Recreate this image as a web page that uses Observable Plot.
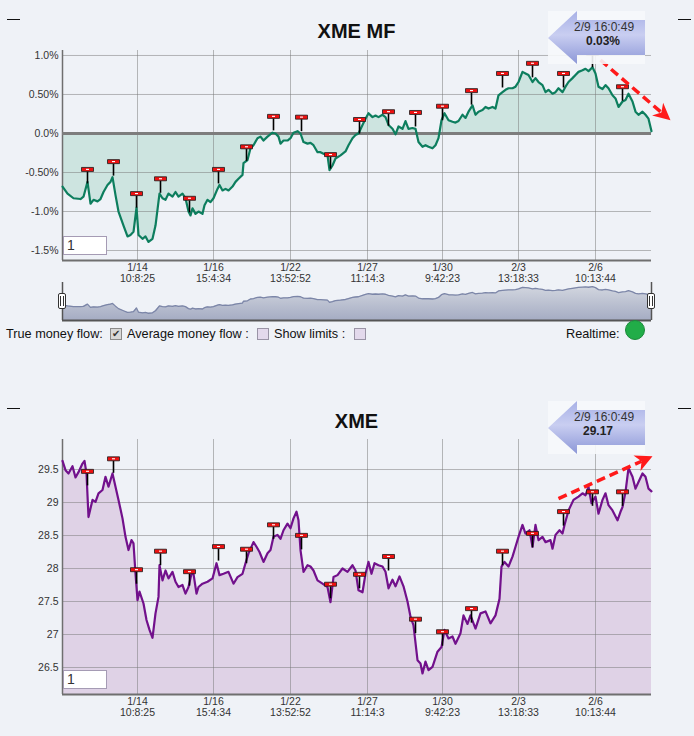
<!DOCTYPE html>
<html><head><meta charset="utf-8">
<script src="https://cdn.jsdelivr.net/npm/d3@7"></script>
<script src="https://cdn.jsdelivr.net/npm/@observablehq/plot@0.6"></script>
<style>
html,body{margin:0;padding:0;background:#eff2f7;}
#root{position:relative;width:694px;height:736px;overflow:hidden;background:#eff2f7;font-family:"Liberation Sans",Arial,sans-serif;color:#111;}
#root svg.plotsvg{position:absolute;left:0;}
.abs{position:absolute;}
.title{position:absolute;left:0;width:714px;text-align:center;font-weight:bold;font-size:20px;color:#111;}
.dash{position:absolute;width:13px;height:1px;background:#111;}
.inbox{position:absolute;left:63px;width:39px;height:17px;background:#fff;border:1px solid #a59bb4;font-size:14px;line-height:17px;color:#333;padding-left:3px;box-sizing:content-box;}
.ctl{position:absolute;top:327px;font-size:12.7px;line-height:14px;color:#111;white-space:nowrap;}
.cb{position:absolute;top:328px;width:10px;height:10px;border:1px solid #8a8a8a;}
.handle{position:absolute;top:293px;width:6px;height:14px;background:#fff;border:1.5px solid #333;border-radius:2px;}
.handle:before{content:"";position:absolute;left:1px;top:2px;width:1px;height:10px;background:#333;}
.handle:after{content:"";position:absolute;left:4px;top:2px;width:1px;height:10px;background:#333;}
</style></head>
<body>
<svg width="0" height="0" style="position:absolute">
  <defs>
    <linearGradient id="navGrad" x1="0" y1="0" x2="0" y2="1">
      <stop offset="0" stop-color="#d2d6df"/>
      <stop offset="1" stop-color="#a5acc3"/>
    </linearGradient>
    <linearGradient id="callGrad" x1="0" y1="0" x2="0" y2="1">
      <stop offset="0" stop-color="#a7b0e6"/>
      <stop offset="0.45" stop-color="#c9cef1"/>
      <stop offset="1" stop-color="#8c97d7"/>
    </linearGradient>
  </defs>
</svg>
<div id="root"></div>
<script>
// ---------------- data ----------------
const xDomain = [0, 589];
const xTickBars = [75, 151, 228, 305, 380, 456, 533];
const xTickDates = ["1/14", "1/16", "1/22", "1/27", "1/30", "2/3", "2/6"];
const xTickTimes = ["10:8:25", "15:4:34", "13:52:52", "11:14:3", "9:42:23", "13:18:33", "10:13:44"];

const mfTicks = [1, 0.5, 0, -0.5, -1, -1.5];
const mfTickLabels = ["1.0%", "0.50%", "0.0%", "-0.50%", "-1.0%", "-1.5%"];
const priceTicks = [29.5, 29, 28.5, 28, 27.5, 27, 26.5];
const priceTickLabels = ["29.5", "29", "28.5", "28", "27.5", "27", "26.5"];

const mfBars = [0,5,11,18,21,25,28,31,35,38,41,45,48,50,53,56,61,65,68,71,74,76,80,83,86,90,93,97,100,103,106,110,113,116,120,123,126,128,130,133,136,140,142,145,148,151,155,157,160,163,166,170,173,176,180,181,185,188,191,195,198,201,205,210,213,216,218,221,225,228,231,235,238,241,245,248,251,255,258,261,265,267,270,273,278,283,286,290,293,296,300,303,306,310,313,316,320,323,326,330,333,336,340,343,346,350,353,356,360,363,366,370,373,376,379,382,386,390,393,396,400,403,406,410,413,416,420,423,426,430,433,436,440,443,446,450,453,456,460,463,466,470,473,476,480,483,486,490,493,496,500,503,506,510,513,516,520,523,526,530,533,536,540,543,546,550,553,556,560,563,566,570,573,576,580,583,586,589];
const mfValues = [-0.68,-0.77,-0.83,-0.84,-0.81,-0.62,-0.90,-0.85,-0.87,-0.84,-0.75,-0.66,-0.62,-0.56,-0.79,-1.00,-1.18,-1.32,-1.30,-1.26,-0.95,-1.30,-1.35,-1.32,-1.39,-1.35,-1.18,-0.77,-0.83,-0.85,-0.77,-0.81,-0.75,-0.81,-0.77,-0.83,-1.00,-1.05,-0.96,-1.03,-1.00,-1.03,-0.92,-0.85,-0.88,-0.83,-0.71,-0.66,-0.73,-0.71,-0.73,-0.68,-0.62,-0.58,-0.53,-0.38,-0.34,-0.19,-0.15,-0.06,-0.04,-0.09,-0.04,0.01,0.00,-0.04,-0.13,-0.09,-0.09,-0.06,0.01,0.03,0.00,-0.11,-0.13,-0.12,-0.15,-0.24,-0.24,-0.26,-0.28,-0.47,-0.41,-0.32,-0.28,-0.23,-0.15,-0.06,-0.02,0.00,0.11,0.19,0.26,0.21,0.23,0.21,0.24,0.21,0.11,0.06,-0.01,0.09,0.06,0.16,0.06,0.07,0.06,-0.11,-0.17,-0.15,-0.17,-0.19,-0.15,-0.06,0.17,0.26,0.17,0.15,0.14,0.16,0.24,0.20,0.28,0.36,0.24,0.28,0.30,0.34,0.32,0.34,0.32,0.49,0.53,0.56,0.58,0.58,0.60,0.66,0.79,0.77,0.75,0.66,0.71,0.66,0.62,0.53,0.56,0.51,0.53,0.58,0.53,0.60,0.66,0.71,0.75,0.79,0.81,0.83,0.80,0.85,0.77,0.60,0.57,0.62,0.58,0.49,0.45,0.34,0.41,0.43,0.51,0.41,0.28,0.24,0.28,0.24,0.19,0.03];

const priceBars = [0,3,6,10,13,16,20,22,24,26,30,33,36,40,43,46,50,53,56,60,63,66,69,71,73,75,77,81,84,87,90,93,96,97,100,103,106,110,113,116,120,123,126,129,131,134,136,140,145,150,154,157,161,166,171,175,180,183,186,191,194,197,201,205,208,211,215,218,221,225,228,231,234,236,238,241,245,248,251,255,260,265,268,271,275,280,285,290,293,296,300,303,306,309,312,316,320,323,326,330,333,337,341,345,348,351,355,358,360,363,366,370,375,379,382,386,390,393,398,401,405,408,413,418,423,428,433,437,439,442,446,450,453,456,460,463,467,470,473,476,480,483,488,490,493,497,500,502,506,511,516,520,523,526,529,533,536,540,543,546,550,555,558,560,563,566,570,573,576,580,583,586,589];
const priceValues = [29.63,29.49,29.44,29.55,29.38,29.46,29.59,29.63,29.44,28.78,29.04,29.01,29.14,29.19,29.39,29.24,29.44,29.24,29.04,28.76,28.48,28.28,28.43,28.38,27.92,27.52,27.65,27.47,27.22,27.07,26.95,27.32,27.57,28.05,27.82,27.97,27.85,27.95,27.80,27.72,27.75,27.62,27.72,27.92,27.92,27.62,27.72,27.77,27.80,27.85,28.08,27.90,27.92,27.95,27.77,27.87,27.92,28.08,28.23,28.40,28.33,28.25,28.10,28.23,28.28,28.48,28.51,28.45,28.58,28.68,28.61,28.76,28.86,28.73,28.28,27.95,28.05,28.03,27.97,27.82,27.77,27.72,27.49,27.87,27.90,28.00,27.95,28.05,27.97,27.67,27.64,27.92,28.10,27.92,28.08,28.05,28.03,27.95,27.70,27.83,27.73,27.88,27.73,27.50,27.27,27.14,26.61,26.56,26.41,26.59,26.46,26.51,26.74,26.81,27.07,26.94,26.97,26.86,27.02,27.29,27.16,27.29,27.09,27.32,27.35,27.17,27.29,27.54,28.03,28.10,28.03,28.18,28.33,28.48,28.66,28.53,28.58,28.33,28.66,28.43,28.48,28.40,28.43,28.30,28.51,28.58,28.53,28.66,28.88,29.04,29.09,29.14,29.11,29.24,28.99,29.09,28.83,29.04,29.14,28.96,28.88,28.73,28.86,28.93,29.16,29.52,29.39,29.21,29.31,29.44,29.39,29.21,29.17];

const flagBars = [25,51,74,98,127,156,184,211,239,268,297,326,353,380,409,440,470,501,530,560];
const mfFlagValues = [-0.64,-0.54,-0.95,-0.76,-1.01,-0.64,-0.35,0.04,0.03,-0.45,0.00,0.10,0.09,0.17,0.37,0.59,0.72,0.59,0.85,0.42];
const priceFlagValues = [29.26,29.45,27.77,28.05,27.74,28.12,28.08,28.45,28.29,27.55,27.70,27.97,27.02,26.83,27.18,28.05,28.32,28.65,28.95,28.95];

const mfTrend = [{bar: 538, v: 0.94}, {bar: 608, v: 0.17}];
const priceTrend = [{bar: 496, v: 29.06}, {bar: 590, v: 29.70}];

const lastTime = "2/9 16:0:49";
const lastMF = "0.03%";
const lastPrice = "29.17";

// ---------------- drawing ----------------
const W = 694, ML = 62, MR = 43;
const root = document.getElementById("root");

const stemSymbol = {draw(ctx) { ctx.moveTo(0, 0); ctx.lineTo(0, -12); }};
const flagSymbol = {draw(ctx) { ctx.moveTo(-6, -16); ctx.lineTo(6, -16); ctx.lineTo(6, -12); ctx.lineTo(-6, -12); ctx.closePath(); }};
const flagDotSymbol = {draw(ctx) { ctx.moveTo(-1.5, -14.6); ctx.lineTo(1.5, -14.6); ctx.lineTo(1.5, -13.5); ctx.lineTo(-1.5, -13.5); ctx.closePath(); }};
function headSymbol(angle) {
  const c = Math.cos(angle), s = Math.sin(angle);
  const pts = [[0, 0], [-17, -8.5], [-12, 0], [-17, 8.5]];
  return {draw(ctx) {
    pts.forEach(([px, py], i) => { const X = px * c - py * s, Y = px * s + py * c; i ? ctx.lineTo(X, Y) : ctx.moveTo(X, Y); });
    ctx.closePath();
  }};
}

function drawChart(o) {
  const data = o.bars.map((b, i) => ({bar: b, v: o.values[i]}));
  const flags = flagBars.map((b, i) => ({bar: b, v: o.flagValues[i]}));
  const kx = (W - ML - MR) / (xDomain[1] - xDomain[0]);
  const ky = (o.height - o.marginTop - o.marginBottom) / (o.yDomain[1] - o.yDomain[0]);
  const [t0, t1] = o.trend;
  const dxp = (t1.bar - t0.bar) * kx, dyp = -(t1.v - t0.v) * ky;
  const ang = Math.atan2(dyp, dxp);
  const len = Math.hypot(dxp, dyp);
  const f = (len - 12) / len;
  const link = [{x1: t0.bar, y1: t0.v, x2: t0.bar + (t1.bar - t0.bar) * f, y2: t0.v + (t1.v - t0.v) * f}];
  const marks = [
    Plot.areaY(data, {x: "bar", y1: o.areaBase, y2: "v", fill: o.areaColor}),
    Plot.ruleX(xTickBars, {x: d => d, stroke: "#777", strokeOpacity: 0.5}),
    Plot.ruleY(o.yTicks, {y: d => d, stroke: "#777", strokeOpacity: 0.5}),
    Plot.ruleX([xDomain[0]], {x: d => d, stroke: "#6f6f6f", strokeWidth: 1.5}),
    Plot.ruleY([o.yDomain[0]], {y: d => d, stroke: "#6f6f6f", strokeWidth: 2})
  ];
  if (o.zero) marks.push(Plot.ruleY([0], {y: d => d, stroke: "#7d7d7d", strokeWidth: 3}));
  marks.push(
    Plot.line(data, {x: "bar", y: "v", stroke: o.lineColor, strokeWidth: 2.2, strokeLinejoin: "round"}),
    Plot.dot(flags, {x: "bar", y: "v", symbol: stemSymbol, fill: "none", stroke: "#000", strokeWidth: 1.6}),
    Plot.dot(flags, {x: "bar", y: "v", symbol: flagSymbol, fill: "#ee1111", stroke: "#1a1a1a", strokeWidth: 0.8}),
    Plot.dot(flags, {x: "bar", y: "v", symbol: flagDotSymbol, fill: "#ffffff", stroke: "none"}),
    Plot.link(link, {x1: "x1", y1: "y1", x2: "x2", y2: "y2", stroke: "#ff1a1a", strokeWidth: 3.5, strokeDasharray: "9,5"}),
    Plot.dot([t1], {x: "bar", y: "v", symbol: headSymbol(ang), fill: "#ff1a1a", stroke: "none"}),
    Plot.text(o.yTicks, {y: d => d, text: (d, i) => o.yLabels[i], frameAnchor: "left", textAnchor: "end", dx: -4, fill: "#333", fontSize: 10.5}),
    Plot.text(xTickBars, {x: d => d, text: (d, i) => xTickDates[i], frameAnchor: "bottom", dy: 10, fill: "#333", fontSize: 10.5}),
    Plot.text(xTickBars, {x: d => d, text: (d, i) => xTickTimes[i], frameAnchor: "bottom", dy: 21, fill: "#333", fontSize: 10.5})
  );
  const svg = Plot.plot({
    width: W, height: o.height,
    marginLeft: ML, marginRight: MR, marginTop: o.marginTop, marginBottom: o.marginBottom,
    x: {domain: xDomain, axis: null},
    y: {domain: o.yDomain, axis: null},
    style: {background: "transparent", fontFamily: "'Liberation Sans', Arial, sans-serif", overflow: "visible"},
    marks
  });
  svg.classList.add("plotsvg");
  svg.style.top = o.top + "px";
  svg.style.position = "absolute";
  svg.style.maxWidth = "none";
  root.appendChild(svg);
}

drawChart({
  top: 0, height: 290, marginTop: 50, marginBottom: 30,
  bars: mfBars, values: mfValues, flagValues: mfFlagValues,
  yDomain: [-1.628, 1.064], yTicks: mfTicks, yLabels: mfTickLabels,
  lineColor: "#0d7e5e", areaColor: "#cde4e0", areaBase: 0, zero: true, trend: mfTrend
});

drawChart({
  top: 390, height: 330, marginTop: 49, marginBottom: 26,
  bars: priceBars, values: priceValues, flagValues: priceFlagValues,
  yDomain: [26.091, 29.955], yTicks: priceTicks, yLabels: priceTickLabels,
  lineColor: "#72118c", areaColor: "#dfd2e6", areaBase: 26.091, zero: false, trend: priceTrend
});

// navigator
{
  const navData = mfBars.map((b, i) => ({bar: b, v: mfValues[i]}));
  const nav = Plot.plot({
    width: W, height: 39, marginLeft: ML, marginRight: MR, marginTop: 0, marginBottom: 1,
    x: {domain: xDomain, axis: null},
    y: {domain: [-2.0, 1.2], axis: null},
    style: {background: "transparent", overflow: "visible"},
    marks: [
      Plot.areaY(navData, {x: "bar", y1: -2.0, y2: "v", fill: "url(#navGrad)"}),
      Plot.line(navData, {x: "bar", y: "v", stroke: "#7c86a8", strokeWidth: 1.3}),
      Plot.ruleX([xDomain[0], xDomain[1]], {x: d => d, stroke: "#555", strokeWidth: 1.5}),
      Plot.ruleY([-2.0], {y: d => d, stroke: "#555", strokeWidth: 2})
    ]
  });
  nav.classList.add("plotsvg");
  nav.style.position = "absolute";
  nav.style.top = "282px";
  nav.style.maxWidth = "none";
  root.appendChild(nav);
}

// overlay html
function add(html) { root.insertAdjacentHTML("beforeend", html); }
add(`<div class="title" style="top:20px;width:713px">XME MF</div>`);
add(`<div class="title" style="top:410px;width:713px">XME</div>`);
add(`<div class="dash" style="left:7px;top:19px"></div><div class="dash" style="left:678px;top:19px"></div>`);
add(`<div class="dash" style="left:7px;top:408px"></div><div class="dash" style="left:678px;top:408px"></div>`);
add(`<div class="inbox" style="top:236px">1</div><div class="inbox" style="top:670px">1</div>`);
add(`<div class="handle" style="left:58px"></div><div class="handle" style="left:647px"></div>`);
add(`<div class="ctl" style="left:6px">True money flow:</div>`);
add(`<div class="cb" style="left:110px;background:#d8d8d8;font-size:10px;line-height:10px;text-align:center;color:#333">✔</div>`);
add(`<div class="ctl" style="left:127px">Average money flow :</div>`);
add(`<div class="cb" style="left:257px;background:#e3d9ec;border-color:#9a94a6"></div>`);
add(`<div class="ctl" style="left:274px">Show limits :</div>`);
add(`<div class="cb" style="left:354px;background:#e3d9ec;border-color:#9a94a6"></div>`);
add(`<div class="ctl" style="left:566px">Realtime:</div>`);
add(`<div class="abs" style="left:625px;top:320px;width:18px;height:18px;border-radius:50%;background:#21ad48;border:1px solid #1b8a3a"></div>`);

function callout(dy, l1, l2, x2) {
  return `<svg class="abs" style="left:0;top:${dy}px" width="694" height="70">
    <rect x="548" y="11" width="97" height="53" fill="#f6f8fb" fill-opacity="0.9"/>
    <polygon points="548,38 577,11 577,20 645,20 645,55 577,55 577,64" fill="url(#callGrad)"/>
    <text x="574" y="31" font-size="12" fill="#333" font-family="Liberation Sans, Arial, sans-serif">${l1}</text>
    <text x="${x2}" y="45" font-size="12" font-weight="bold" fill="#222" font-family="Liberation Sans, Arial, sans-serif">${l2}</text>
  </svg>`;
}
add(callout(0, lastTime, lastMF, 586));
add(callout(390, lastTime, lastPrice, 583));
</script>
</body></html>
